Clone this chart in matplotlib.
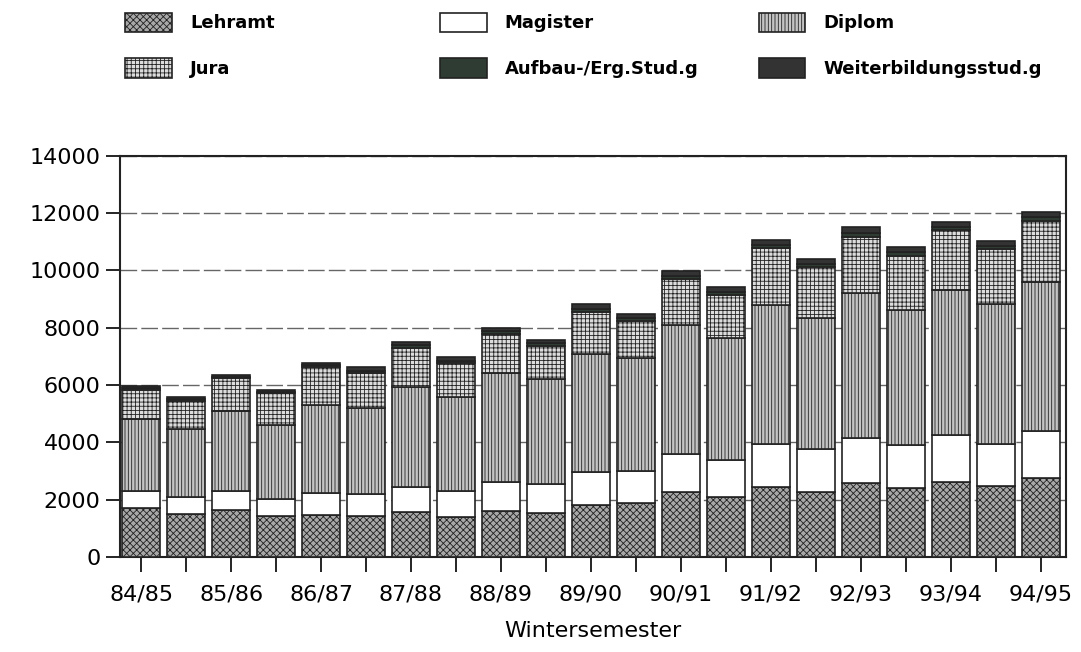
import numpy as np
import matplotlib
matplotlib.use('Agg')
import matplotlib.pyplot as plt
from matplotlib.patches import Patch

# Wintersemester / Sommersemester 84/85 .. 94/95
semester_labels = ['84/85', '', '85/86', '', '86/87', '', '87/88', '', '88/89', '',
                   '89/90', '', '90/91', '', '91/92', '', '92/93', '', '93/94', '', '94/95']

lehramt = [1690, 1500, 1640, 1420, 1460, 1430, 1555, 1385, 1600, 1515, 1815,
           1870, 2255, 2090, 2445, 2280, 2575, 2405, 2615, 2475, 2755]
magister = [600, 600, 665, 615, 755, 755, 870, 930, 1010, 1025, 1160,
            1140, 1340, 1305, 1490, 1475, 1560, 1510, 1630, 1475, 1630]
diplom = [2535, 2350, 2770, 2580, 3080, 3025, 3490, 3255, 3815, 3665, 4100,
          3930, 4500, 4255, 4850, 4570, 5070, 4710, 5070, 4860, 5200]
jura = [1010, 1000, 1175, 1105, 1340, 1200, 1385, 1200, 1360, 1160, 1480,
        1300, 1605, 1480, 1980, 1780, 1965, 1885, 2095, 1920, 2155]
aufbau = [50, 60, 45, 50, 60, 80, 85, 80, 85, 85, 100,
          95, 110, 115, 115, 110, 140, 115, 110, 115, 125]
weiterbildung = [70, 80, 60, 65, 80, 120, 125, 120, 125, 125, 160,
                 140, 160, 175, 175, 170, 200, 175, 170, 175, 185]

series_names = ['Lehramt', 'Magister', 'Diplom', 'Jura',
                'Aufbau-/Erg.Stud.g', 'Weiterbildungsstud.g']


def main():
    plt.rcParams['hatch.linewidth'] = 0.6
    plt.rcParams['font.family'] = ['DejaVu Sans']

    series = [lehramt, magister, diplom, jura, aufbau, weiterbildung]
    styles = [
        dict(facecolor='#a8a8a8', hatch='xxxxx'),
        dict(facecolor='white', hatch=None),
        dict(facecolor='#c4c4c4', hatch='|||||'),
        dict(facecolor='#dcdcdc', hatch='++++'),
        dict(facecolor='#2e3c33', hatch=None),
        dict(facecolor='#333333', hatch=None),
    ]

    fig = plt.figure(figsize=(10.81, 6.52), dpi=100)
    ax = fig.add_axes([0.111, 0.146, 0.875, 0.615])

    x = np.arange(len(semester_labels))
    bottom = np.zeros(len(x))
    for vals, st in zip(series, styles):
        vals = np.array(vals, dtype=float)
        ax.bar(x, vals, bottom=bottom, width=0.84, facecolor=st['facecolor'],
               hatch=st['hatch'], edgecolor='#222222', linewidth=1.2, zorder=3)
        bottom += vals

    ax.set_xlim(-0.47, 20.56)
    ax.set_ylim(0, 14000)
    ax.set_yticks(np.arange(0, 14001, 2000))
    ax.set_xticks(x)
    ax.set_xticklabels(semester_labels, fontsize=16)
    ax.tick_params(axis='y', labelsize=16, direction='out', length=10, width=1.2, pad=4)
    ax.tick_params(axis='x', direction='inout', length=22, width=1.2, pad=9)

    ax.yaxis.grid(True, color='#666666', linewidth=1.0, linestyle=(0, (12, 3)), zorder=0)
    for sp in ax.spines.values():
        sp.set_linewidth(1.5)
        sp.set_color('#222222')

    ax.set_xlabel('Wintersemester', fontsize=16, labelpad=12)

    # legend in three columns
    handles = [Patch(facecolor=st['facecolor'], hatch=st['hatch'], edgecolor='#222222',
                     linewidth=1.2) for st in styles]
    col_x = [0.104, 0.395, 0.690]
    col_items = [(0, 3), (1, 4), (2, 5)]
    for cx, (i, j) in zip(col_x, col_items):
        fig.legend([handles[i], handles[j]], [series_names[i], series_names[j]],
                   loc='upper left', bbox_to_anchor=(cx, 1.0), frameon=False,
                   prop=dict(size=13, weight='bold'), handlelength=2.6,
                   handleheight=1.25, handletextpad=1.0, labelspacing=1.45,
                   borderaxespad=0.3)

    fig.savefig('out.png', dpi=100)
    plt.close(fig)


if __name__ == '__main__':
    main()
